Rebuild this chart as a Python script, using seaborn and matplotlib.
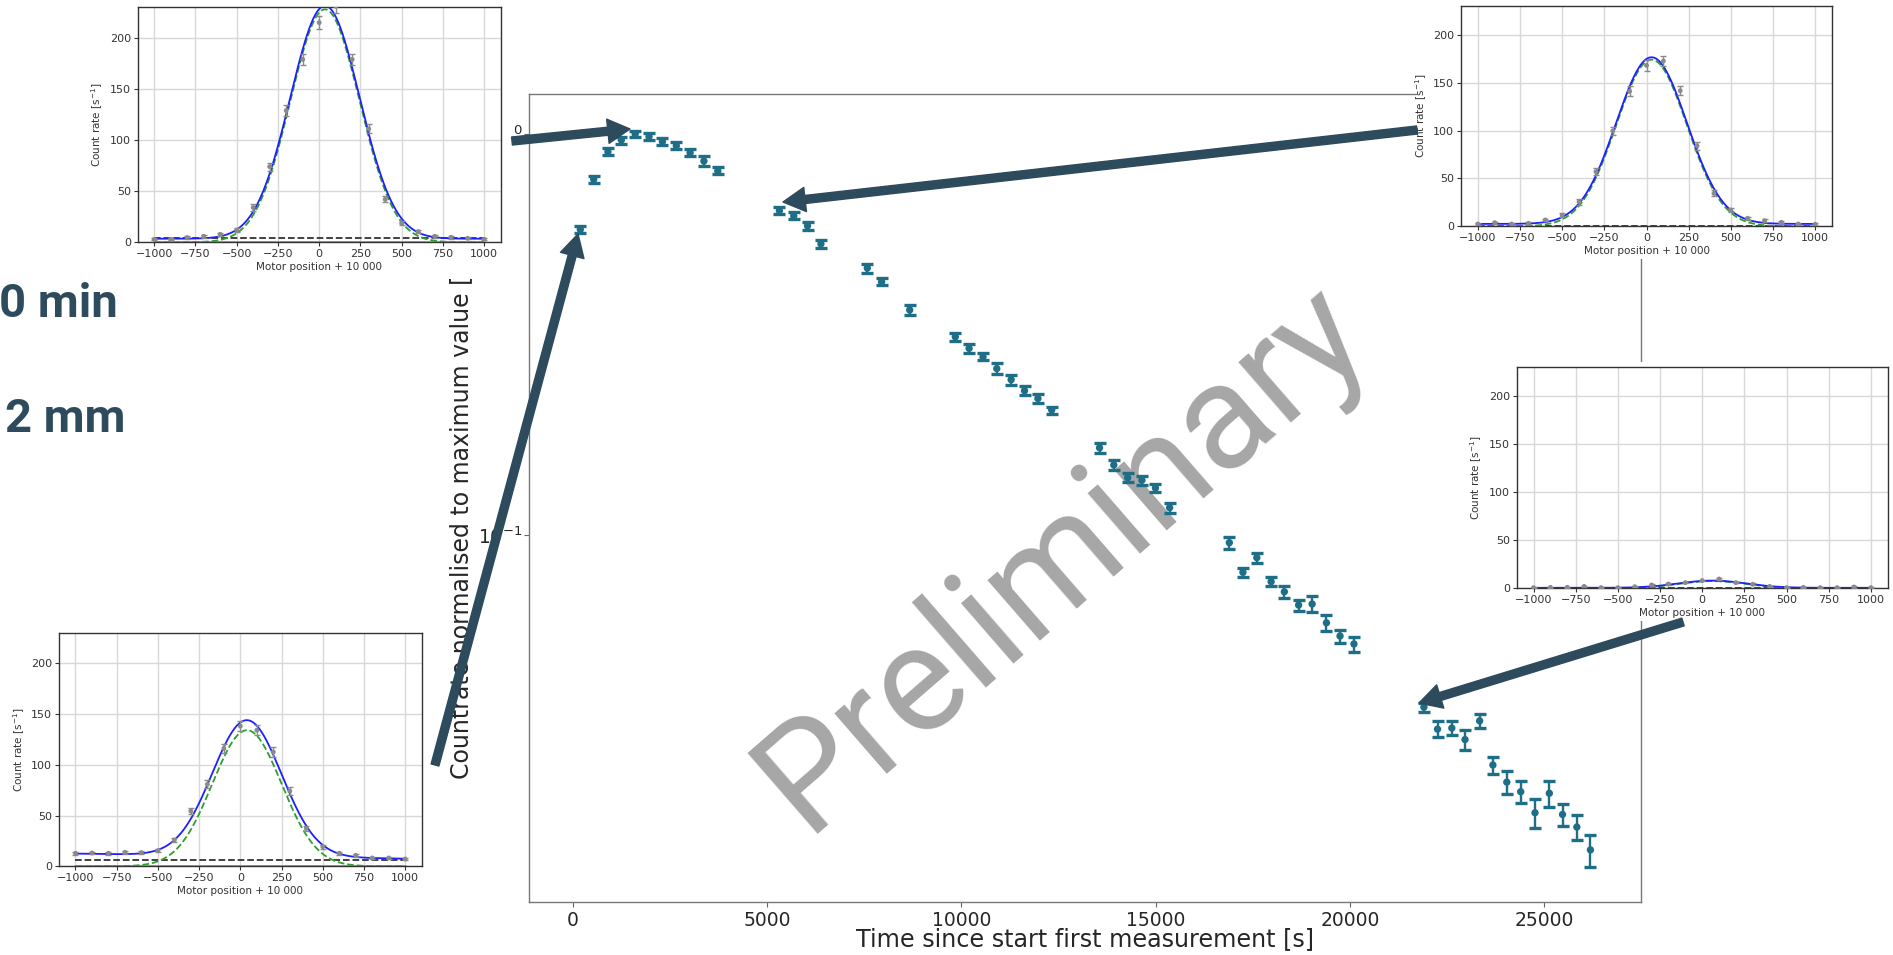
import numpy as np
import pandas as pd
import matplotlib
matplotlib.use("Agg")
import matplotlib.pyplot as plt
import seaborn as sns
from matplotlib.patches import Rectangle, FancyArrowPatch
from matplotlib.ticker import NullFormatter

# ---------------- main series (time vs normalised count rate) ----------------
time_s = [188, 533, 899, 1244, 1601, 1957, 2302, 2660, 3015, 3370, 3728,
          5314, 5683, 6038, 6383, 7577, 7945, 8669, 9843, 10198, 10556, 10911,
          11280, 11625, 11970, 12325, 13556, 13924, 14280, 14648, 14995, 15361,
          16898, 17248, 17606, 17974, 18314, 18682, 19030, 19398, 19748, 20106,
          21908, 22258, 22626, 22966, 23342, 23684, 24042, 24400, 24768, 25137,
          25476, 25845, 26195]
norm_rate = [0.578, 0.771, 0.903, 0.966, 1.0, 0.985, 0.957, 0.935, 0.898, 0.856, 0.809,
             0.644, 0.625, 0.590, 0.532, 0.463, 0.428, 0.364, 0.312, 0.292, 0.278, 0.260,
             0.244, 0.229, 0.219, 0.205, 0.165, 0.1495, 0.139, 0.137, 0.131, 0.117,
             0.0957, 0.0807, 0.0878, 0.0765, 0.0722, 0.0669, 0.0673, 0.0604, 0.0560, 0.0535,
             0.0372, 0.0328, 0.0330, 0.0309, 0.0344, 0.0267, 0.0242, 0.0229, 0.0203, 0.0227,
             0.0201, 0.0187, 0.0164]
norm_err = [0.0116, 0.0154, 0.0181, 0.0193, 0.0200, 0.0197, 0.0191, 0.0187, 0.0180, 0.0231, 0.0162,
            0.0129, 0.0125, 0.0148, 0.0133, 0.0116, 0.0086, 0.0109, 0.0078, 0.0073, 0.0056, 0.0078,
            0.0073, 0.0057, 0.0055, 0.0041, 0.0050, 0.0045, 0.0035, 0.0034, 0.0033, 0.0035,
            0.0033, 0.0022, 0.0025, 0.0019, 0.0024, 0.0021, 0.0030, 0.0027, 0.0021, 0.0023,
            0.0010, 0.0015, 0.0013, 0.0018, 0.0014, 0.0013, 0.0016, 0.0014, 0.0017, 0.0017,
            0.0013, 0.0013, 0.0015]
x_ticks = [0, 5000, 10000, 15000, 20000, 25000]

# ---------------- inset scans ----------------
motor_pos = [-1000, -900, -800, -700, -600, -500, -400, -300, -200, -100, 0,
             100, 200, 300, 400, 500, 600, 700, 800, 900, 1000]
scan_tl = [2.9, 3.0, 4.6, 5.9, 7.8, 12, 34, 74, 129, 179, 215, 231, 179, 111, 42, 18.6, 10.5, 5.9, 4.9, 3.9, 2.9]
err_tl = [1, 1, 1.2, 1.3, 1.5, 2, 3, 4, 5, 5.5, 6, 6.5, 5.5, 4.5, 3, 2, 1.7, 1.3, 1.2, 1.1, 1]
scan_tr = [2.4, 3.8, 2.4, 3.1, 6.6, 11.5, 25.7, 57, 99.5, 141, 168, 172.6, 141.6, 84, 34.4, 17, 8.4, 5.9, 4.2, 2.4, 2.1]
err_tr = [1, 1.2, 1, 1.1, 1.5, 2, 3, 3.5, 4.5, 5, 5.5, 5.5, 5, 4, 3, 2, 1.5, 1.3, 1.2, 1, 1]
scan_mr = [0.7, 1, 1, 2, 0.7, 0.7, 1.7, 3.5, 4.5, 5.9, 8, 9.7, 5.9, 4.2, 2, 0.7, 1, 0.7, 0.7, 1.4, 0.7]
err_mr = [0.8] * 21
scan_bl = [12.8, 13.1, 12.8, 13.8, 13.4, 15.4, 25.9, 54.4, 80.7, 116, 138, 134, 112.5, 74, 37.4, 19.3, 12.8, 10.8, 8.2, 8.2, 7.2]
err_bl = [1.3, 1.3, 1.3, 1.4, 1.4, 1.5, 2.2, 3.2, 4, 4.7, 5, 5, 4.6, 3.8, 2.6, 1.8, 1.4, 1.3, 1.2, 1.2, 1.1]

# fit parameters: amplitude, centre, sigma, bg left, bg right, dashed bg level
fit_tl = [228, 35, 210, 3.5, 3.5, 4.2]
fit_tr = [174, 30, 210, 2.5, 2.5, 0.8]
fit_mr = [7.5, 60, 200, 0.5, 0.5, 0.4]
fit_bl = [134, 40, 210, 12.5, 7.5, 5.9]

inset_xticks = [-1000, -750, -500, -250, 0, 250, 500, 750, 1000]
inset_yticks = [0, 50, 100, 150, 200]

# ---------------- figure ----------------
sns.set_style("white")
plt.rcParams["font.family"] = ["DejaVu Sans"]

W, H = 1893, 955
fig = plt.figure(figsize=(W / 100, H / 100), dpi=100)


def px_rect(x0, y0, x1, y1):
    return [x0 / W, 1 - y1 / H, (x1 - x0) / W, (y1 - y0) / H]


def fpt(x, y):
    return (x / W, 1 - y / H)


MAIN_C = "#1d6e86"
DARK = "#2d4b5d"

ax = fig.add_axes(px_rect(529, 94, 1641, 901.7))
main_df = pd.DataFrame({"t": time_s, "v": norm_rate, "e": norm_err})
ax.errorbar(main_df["t"], main_df["v"], yerr=main_df["e"], fmt="none", ecolor=MAIN_C,
            elinewidth=1.7, capsize=4.2, capthick=2.4, zorder=3)
sns.scatterplot(data=main_df, x="t", y="v", ax=ax, color=MAIN_C, s=28,
                edgecolor="none", zorder=4, legend=False)
ax.set_yscale("log")
ax.set_xlim(-1133, 27497)
ax.set_ylim(0.01218, 1.258)
ax.set_xticks(x_ticks)
ax.set_xticklabels([str(v) for v in x_ticks])
ax.yaxis.set_minor_formatter(NullFormatter())
ax.tick_params(axis="both", which="major", labelsize=13.5, length=3.5, color="#666666", direction="out")
ax.tick_params(axis="y", which="major", pad=1.5)
ax.tick_params(axis="y", which="minor", length=2, color="#666666")
ax.tick_params(axis="both", left=True, bottom=True)
for sp in ax.spines.values():
    sp.set_visible(True)
    sp.set_color("#777777")
    sp.set_linewidth(1.0)
ax.set_xlabel("Time since start first measurement [s]", fontsize=17.2, labelpad=-2.5)
ax.set_ylabel("Countrate normalised to maximum value [", fontsize=17)
ax.yaxis.set_label_coords(-0.0501, 0.4639)

ax.text(1063 / W, 1 - 557 / H, "Preliminary", transform=fig.transFigure, rotation=41,
        fontsize=108, color="#a6a6a6", ha="center", va="center", family="Roboto",
        zorder=2, clip_on=False)

# white backgrounds of the pasted inset images
for (x0, y0, x1, y1) in [(60, 0, 513, 277), (1417, 0, 1893, 259),
                         (1470, 362, 1893, 621), (0, 625, 432, 955)]:
    fig.add_artist(Rectangle((x0 / W, 1 - y1 / H), (x1 - x0) / W, (y1 - y0) / H,
                             transform=fig.transFigure, facecolor="white",
                             edgecolor="none", zorder=5))


def draw_inset(rect, rates, errs, fit, orange=True):
    amp, cen, sig, bgl, bgr, blk = fit
    iax = fig.add_axes(px_rect(*rect), zorder=6)
    iax.set_facecolor("white")
    xs = np.linspace(-1000, 1000, 401)
    bg = bgl + (bgr - bgl) * (xs + 1000) / 2000
    gauss = amp * np.exp(-0.5 * ((xs - cen) / sig) ** 2)
    if orange:
        sns.lineplot(x=[-1000, 1000], y=[0, 0], ax=iax, color="#e8930c", lw=2.0, zorder=2)
    sns.lineplot(x=[-1000, 1000], y=[blk, blk], ax=iax, color="#333333", lw=1.3,
                 linestyle="--", zorder=3)
    sns.lineplot(x=xs, y=gauss, ax=iax, color="#2ca02c", lw=1.3, linestyle="--", zorder=4)
    sns.lineplot(x=xs, y=gauss + bg, ax=iax, color="#1f1fff", lw=1.3, zorder=5)
    iax.errorbar(motor_pos, rates, yerr=errs, fmt="none", ecolor="#8a8a8a", elinewidth=1.0,
                 capsize=2.5, capthick=1.0, zorder=6)
    sns.scatterplot(x=motor_pos, y=rates, ax=iax, color="#8a8a8a", s=12,
                    edgecolor="none", zorder=7, legend=False)
    iax.set_xlim(-1100, 1100)
    iax.set_ylim(0, 230)
    iax.set_xticks(inset_xticks)
    iax.set_yticks(inset_yticks)
    iax.grid(True, color="#d8d8d8", lw=1.0)
    iax.set_axisbelow(True)
    iax.tick_params(labelsize=8, length=3, color="#333333", labelcolor="#333333",
                    left=True, bottom=True, pad=2)
    for sp in iax.spines.values():
        sp.set_visible(True)
        sp.set_color("#333333")
        sp.set_linewidth(1.0)
    iax.set_xlabel("Motor position + 10 000", fontsize=7.5, color="#333333", labelpad=2)
    iax.set_ylabel("Count rate [s$^{-1}$]", fontsize=7.5, color="#333333", labelpad=3)
    return iax


draw_inset((137.7, 7.3, 500.7, 242.3), scan_tl, err_tl, fit_tl, orange=True)
draw_inset((1461, 6, 1832, 226.3), scan_tr, err_tr, fit_tr, orange=False)
draw_inset((1516.7, 366.7, 1887.7, 588.3), scan_mr, err_mr, fit_mr, orange=False)
draw_inset((59, 632.7, 421.7, 866.3), scan_bl, err_bl, fit_bl, orange=True)

# arrows linking scans to points
arrow_style = "simple,head_length=1.6,head_width=1.75,tail_width=0.58"
for (xa, ya, xb, yb) in [(512, 141, 630, 129), (1417, 130, 783, 202),
                         (435, 765, 578, 234), (1683, 622, 1419, 703)]:
    fig.add_artist(FancyArrowPatch(fpt(xa, ya), fpt(xb, yb), transform=fig.transFigure,
                                   arrowstyle=arrow_style, mutation_scale=10,
                                   color=DARK, shrinkA=0, shrinkB=0, zorder=8))

fig.text(118 / W, 1 - 317 / H, "0 min", ha="right", va="baseline", fontsize=34,
         fontweight="bold", family="Roboto", color=DARK, zorder=9)
fig.text(126 / W, 1 - 432 / H, "2 mm", ha="right", va="baseline", fontsize=34,
         fontweight="bold", family="Roboto", color=DARK, zorder=9)

fig.savefig("out.png", dpi=100, facecolor="white")
